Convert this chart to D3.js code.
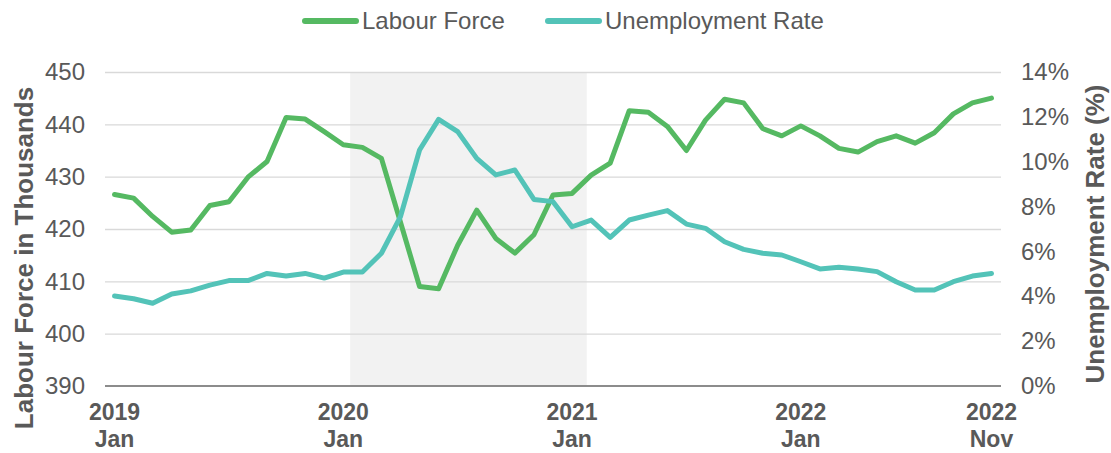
<!DOCTYPE html>
<html>
<head>
<meta charset="utf-8">
<script src="https://cdn.jsdelivr.net/npm/d3@7"></script>
<style>
  html, body { margin: 0; padding: 0; background: #fff; }
  svg { display: block; font-family: "Liberation Sans", Arial, sans-serif; }
</style>
</head>
<body>
<svg id="chart" width="1111" height="453"></svg>
<script>
// ---- Data ----
const months = ["Jan","Feb","Mar","Apr","May","Jun","Jul","Aug","Sep","Oct","Nov","Dec"];
const categories = [];
for (let y = 2019; y <= 2022; y++) for (let m = 0; m < 12; m++) {
  if (y === 2022 && m > 10) break;
  categories.push(y + " " + months[m]);
}
const labourForce = [
  426.6, 425.9, 422.4, 419.4, 419.8, 424.5, 425.2, 429.9, 432.9, 441.3, 441.0, 438.6,
  436.1, 435.6, 433.5, 421.3, 409.0, 408.6, 416.9, 423.6, 418.2, 415.4, 418.9, 426.5,
  426.8, 430.3, 432.6, 442.6, 442.3, 439.6, 435.0, 440.8, 444.8, 444.1, 439.2, 437.8,
  439.7, 437.8, 435.4, 434.7, 436.7, 437.8, 436.4, 438.4, 442.0, 444.1, 445.0
];
const unemploymentRate = [
  4.01, 3.89, 3.69, 4.10, 4.24, 4.50, 4.70, 4.70, 5.02, 4.90, 5.02, 4.81,
  5.08, 5.08, 5.92, 7.55, 10.52, 11.89, 11.34, 10.15, 9.41, 9.63, 8.32, 8.22,
  7.10, 7.40, 6.63, 7.40, 7.62, 7.82, 7.22, 7.03, 6.43, 6.09, 5.92, 5.84,
  5.54, 5.22, 5.29, 5.22, 5.10, 4.65, 4.28, 4.28, 4.65, 4.90, 5.02
];
const xTickCats = ["2019 Jan", "2020 Jan", "2021 Jan", "2022 Jan", "2022 Nov"];
const leftTicks = [390, 400, 410, 420, 430, 440, 450];
const rightTicks = [0, 2, 4, 6, 8, 10, 12, 14];
const shadeFrom = "2020 Jan", shadeTo = "2021 Jan";   // recession shading span
const seriesNames = ["Labour Force", "Unemployment Rate"];

// ---- Layout ----
const svg = d3.select("#chart");
const plot = { left: 105, right: 1001, top: 72, bottom: 386 };
const colGreen = "#55b962", colTeal = "#53c3b8", textCol = "#595959";

const x = d3.scaleLinear().domain([-0.5, categories.length - 0.5]).range([plot.left, plot.right]);
const xi = c => x(categories.indexOf(c));
const yL = d3.scaleLinear().domain([390, 450]).range([plot.bottom, plot.top]);
const yR = d3.scaleLinear().domain([0, 14]).range([plot.bottom, plot.top]);

// shading
const sx0 = xi(shadeFrom) + 0.36 * (x(1) - x(0));
const sx1 = xi(shadeTo) + 0.77 * (x(1) - x(0));
svg.append("rect").attr("x", sx0).attr("y", plot.top).attr("width", sx1 - sx0)
  .attr("height", plot.bottom - plot.top).attr("fill", "#f2f2f2");

// gridlines (left axis)
const gridAxis = d3.axisLeft(yL).tickValues(leftTicks.slice(1)).tickSize(-(plot.right - plot.left)).tickFormat("");
const gg = svg.append("g").attr("transform", `translate(${plot.left},0)`).call(gridAxis);
gg.select(".domain").remove();
gg.selectAll("line").attr("stroke", "#d9d9d9").attr("stroke-width", 1.3);

// left tick labels
const la = d3.axisLeft(yL).tickValues(leftTicks).tickSize(0).tickPadding(20).tickFormat(d3.format("d"));
const lg = svg.append("g").attr("transform", `translate(${plot.left},0)`).call(la);
lg.select(".domain").remove();
lg.selectAll("text").attr("fill", textCol).style("font-size", "24px")
  .style("font-family", "'Liberation Sans', Arial, sans-serif");

// right tick labels
const ra = d3.axisRight(yR).tickValues(rightTicks).tickSize(0).tickPadding(20).tickFormat(d => d + "%");
const rg = svg.append("g").attr("transform", `translate(${plot.right},0)`).call(ra);
rg.select(".domain").remove();
rg.selectAll("text").attr("fill", textCol).style("font-size", "24px")
  .style("font-family", "'Liberation Sans', Arial, sans-serif");

// bottom axis line
svg.append("line").attr("x1", plot.left).attr("x2", plot.right)
  .attr("y1", plot.bottom).attr("y2", plot.bottom)
  .attr("stroke", "#8c8c8c").attr("stroke-width", 2);

// x labels
const xg = svg.append("g");
xTickCats.forEach(c => {
  const [yr, mo] = c.split(" ");
  const t = xg.append("text").attr("x", xi(c)).attr("text-anchor", "middle")
    .attr("fill", textCol).style("font-size", "23px").style("font-weight", "bold");
  t.append("tspan").attr("x", xi(c)).attr("y", 420).text(yr);
  t.append("tspan").attr("x", xi(c)).attr("y", 447).text(mo);
});

// lines
const lineL = d3.line().x((d, i) => x(i)).y(d => yL(d));
const lineR = d3.line().x((d, i) => x(i)).y(d => yR(d));
svg.append("path").datum(labourForce).attr("d", lineL).attr("fill", "none")
  .attr("stroke", colGreen).attr("stroke-width", 5).attr("stroke-linejoin", "round").attr("stroke-linecap", "round");
svg.append("path").datum(unemploymentRate).attr("d", lineR).attr("fill", "none")
  .attr("stroke", colTeal).attr("stroke-width", 5).attr("stroke-linejoin", "round").attr("stroke-linecap", "round");

// axis titles
svg.append("text").attr("transform", `translate(33,258) rotate(-90)`)
  .attr("text-anchor", "middle").attr("fill", textCol)
  .style("font-size", "26px").style("font-weight", "bold").text("Labour Force in Thousands");
svg.append("text").attr("transform", `translate(1104,234) rotate(-90)`)
  .attr("text-anchor", "middle").attr("fill", textCol)
  .style("font-size", "26px").style("font-weight", "bold").text("Unemployment Rate (%)");

// legend
const legend = [
  { name: seriesNames[0], color: colGreen, x0: 302 },
  { name: seriesNames[1], color: colTeal, x0: 545 }
];
legend.forEach(l => {
  svg.append("line").attr("x1", l.x0 + 3).attr("x2", l.x0 + 54).attr("y1", 21).attr("y2", 21)
    .attr("stroke", l.color).attr("stroke-width", 6).attr("stroke-linecap", "round");
  svg.append("text").attr("x", l.x0 + 60).attr("y", 29).attr("fill", textCol)
    .style("font-size", "24px").text(l.name);
});
</script>
</body>
</html>
